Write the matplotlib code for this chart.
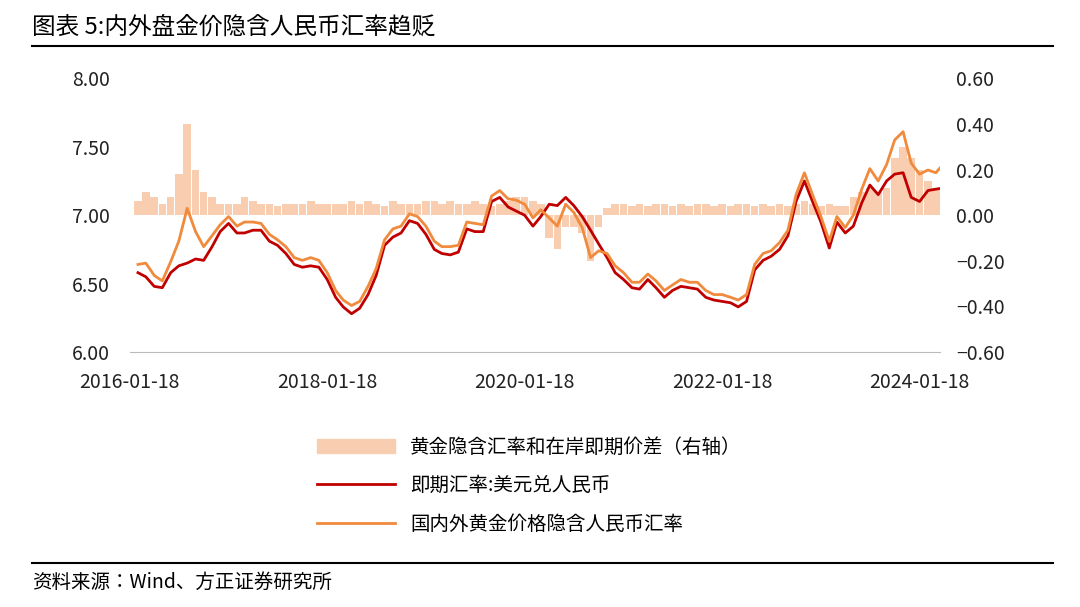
import matplotlib
matplotlib.use("Agg")
import matplotlib.pyplot as plt
import numpy as np
import pandas as pd
from matplotlib.lines import Line2D
from matplotlib.patches import Patch
from matplotlib import font_manager

names = {f.name for f in font_manager.fontManager.ttflist}
cjk = [n for n in ["Noto Sans CJK SC", "Noto Sans CJK JP", "Noto Sans CJK TC", "Noto Sans CJK KR"] if n in names]
plt.rcParams['font.family'] = cjk + ['DejaVu Sans']

dates = pd.date_range("2016-01-18", periods=99, freq="MS") + pd.Timedelta(days=17)
spot = [6.58,6.55,6.48,6.47,6.58,6.63,6.65,6.68,6.67,6.77,6.88,6.94,
        6.87,6.87,6.89,6.89,6.81,6.78,6.72,6.64,6.62,6.63,6.62,6.53,
        6.40,6.33,6.28,6.32,6.42,6.56,6.78,6.84,6.87,6.96,6.94,6.86,
        6.75,6.72,6.71,6.73,6.90,6.88,6.88,7.10,7.13,7.06,7.03,7.00,
        6.92,6.99,7.08,7.07,7.13,7.07,6.99,6.89,6.79,6.69,6.58,6.53,
        6.47,6.46,6.53,6.47,6.40,6.45,6.48,6.47,6.46,6.40,6.38,6.37,
        6.36,6.33,6.37,6.60,6.67,6.70,6.75,6.85,7.10,7.25,7.10,6.95,
        6.76,6.95,6.87,6.92,7.09,7.22,7.15,7.25,7.30,7.31,7.13,7.10,
        7.18,7.19,7.20]
spread = [0.06,0.10,0.08,0.05,0.08,0.18,0.40,0.20,0.10,0.08,0.05,0.05,
          0.05,0.08,0.06,0.05,0.05,0.04,0.05,0.05,0.05,0.06,0.05,0.05,
          0.05,0.05,0.06,0.05,0.06,0.05,0.04,0.06,0.05,0.05,0.05,0.06,
          0.06,0.05,0.06,0.05,0.05,0.06,0.05,0.04,0.05,0.06,0.08,0.08,
          0.06,0.05,-0.10,-0.15,-0.05,-0.05,-0.08,-0.20,-0.05,0.03,0.05,0.05,
          0.04,0.05,0.04,0.05,0.05,0.04,0.05,0.04,0.05,0.05,0.04,0.05,
          0.04,0.05,0.05,0.04,0.05,0.04,0.05,0.04,0.05,0.06,0.05,0.04,
          0.05,0.04,0.04,0.08,0.10,0.12,0.10,0.12,0.25,0.30,0.25,0.20,
          0.15,0.12,0.18]
implied = list(np.array(spot) + np.array(spread))
xticks = ["2016-01-18","2018-01-18","2020-01-18","2022-01-18","2024-01-18"]

fig = plt.figure(figsize=(10.8, 6.07), dpi=100)
ax = fig.add_axes([0.12, 0.42, 0.75, 0.451])
ax2 = ax.twinx()
ax2.bar(dates, spread, width=28, color="#f8cdb0", zorder=1)
ax.set_zorder(ax2.get_zorder() + 1); ax.patch.set_visible(False)
ax.plot(dates, spot, color="#c00000", lw=2)
ax.plot(dates, implied, color="#f08a3c", lw=2)
ax.set_ylim(6, 8); ax2.set_ylim(-0.6, 0.6)
lt = np.arange(6, 8.01, 0.5)
ax.set_yticks(lt); ax.set_yticklabels([f"{v:.2f}" for v in lt])
rt = np.round(np.arange(-0.6, 0.61, 0.2), 2)
ax2.set_yticks(rt); ax2.set_yticklabels([f"{v:.2f}".replace("-", "−") for v in rt])
xt = pd.to_datetime(xticks)
ax.set_xticks(xt); ax.set_xticklabels(xticks)
ax.set_xlim(pd.Timestamp("2016-01-18"), pd.Timestamp("2024-04-01"))
for a in (ax, ax2):
    for s in a.spines.values(): s.set_visible(False)
    a.tick_params(length=0, labelsize=14, colors="#222")
ax.tick_params(axis='x', pad=14)
ax.tick_params(axis='y', pad=14)
ax2.tick_params(axis='y', pad=12)
ax.spines['bottom'].set_visible(True); ax.spines['bottom'].set_color("#bbb")

fig.text(0.03, 0.955, "图表 5:内外盘金价隐含人民币汇率趋贬", fontsize=17, va="center")
fig.add_artist(Line2D([0.03, 0.975], [0.925, 0.925], color="black", lw=1.5))
handles = [Patch(color="#f8cdb0"), Line2D([], [], color="#c00000", lw=2), Line2D([], [], color="#f08a3c", lw=2)]
labels = ["黄金隐含汇率和在岸即期价差（右轴）", "即期汇率:美元兑人民币", "国内外黄金价格隐含人民币汇率"]
fig.legend(handles, labels, loc="center", bbox_to_anchor=(0.49, 0.2), frameon=False, fontsize=14, handlelength=4, labelspacing=0.9)
fig.add_artist(Line2D([0.03, 0.975], [0.073, 0.073], color="black", lw=1.5))
fig.text(0.03, 0.04, "资料来源：Wind、方正证券研究所", fontsize=14, style="italic", va="center")
fig.savefig("out.png", dpi=100)
